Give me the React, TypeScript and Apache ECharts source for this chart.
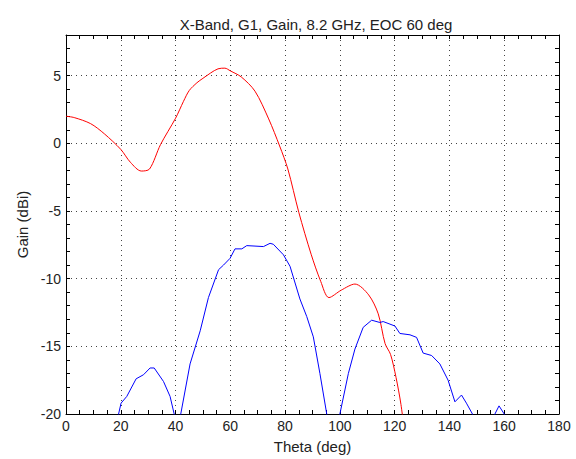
import React, { useEffect, useRef } from "react";
import * as echarts from "echarts";

const titleText = "X-Band, G1, Gain, 8.2 GHz, EOC 60 deg";
const xName = "Theta (deg)";
const yName = "Gain (dBi)";

const redTheta = [0, 3, 9, 14, 20, 23.5, 27.5, 30.5, 34.5, 40, 42.9, 45, 47.8, 50, 55.5, 58, 60, 64, 69, 74, 78, 81, 85, 89.5, 93, 96, 100.5, 105.5, 110.5, 114, 116.5, 118.5, 120.5, 122.3, 124];
const redGain = [2.0, 1.9, 1.45, 0.7, -0.45, -1.4, -2.05, -1.9, -0.1, 1.85, 3.1, 3.9, 4.47, 4.8, 5.5, 5.55, 5.35, 4.9, 3.85, 1.8, -0.2, -1.9, -5.1, -8.2, -10.2, -11.4, -10.85, -10.4, -11.2, -12.6, -14.8, -15.6, -17.3, -19.3, -22];

const blueTheta = [0, 10, 18.8, 19.2, 20.1, 22.2, 25.6, 28.3, 30.7, 32.2, 35.6, 38, 39.5, 40.7, 41.9, 45.3, 49, 52, 55.7, 57.5, 59.9, 61.7, 64.2, 66, 72.1, 74.5, 75.7, 79.4, 81.8, 85.4, 87.9, 90.3, 92.7, 95.2, 97.5, 100, 103.1, 105.5, 108.5, 111.6, 114.6, 115.8, 120.1, 121.9, 125.6, 128, 130.4, 133.5, 136.5, 139.5, 142, 144.4, 146.2, 148.4, 152, 156.6, 158.1, 160, 165, 170, 180];
const blueGain = [-30, -28, -22, -20, -19.2, -18.7, -17.4, -17.1, -16.6, -16.6, -17.6, -18.7, -20, -24, -20, -16.3, -13.85, -11.4, -9.34, -9.0, -8.5, -7.8, -7.8, -7.56, -7.63, -7.39, -7.46, -8.24, -9.09, -11.5, -12.8, -14.3, -17.0, -20, -26, -20, -17.0, -15.2, -13.6, -13.07, -13.24, -13.17, -13.5, -14.05, -14.15, -14.34, -15.5, -15.68, -16.3, -17.5, -19.1, -18.6, -19.2, -20, -25, -20, -19.4, -20, -24, -26, -28];

const X_MIN = 0, X_MAX = 180, X_MAJOR = 20, X_MINOR = 5;
const Y_MIN = -20, Y_MAX = 8, Y_MAJOR = 5, Y_MINOR = 1;

const FONT = "Liberation Sans, Arial, sans-serif";
const TXT = "#222";

export default function App() {
  const ref = useRef<HTMLDivElement>(null);
  useEffect(() => {
    if (!ref.current) return;
    const chart = echarts.init(ref.current, null, { renderer: "svg" });
    const lineBlack = { show: true, onZero: false, lineStyle: { color: "#000", width: 1 } };
    const dotted = { color: "#444", width: 1, type: [1, 4] as any };
    const tick = { show: true, inside: true, length: 4, lineStyle: { color: "#000" } };
    const xBase = { type: "value", min: X_MIN, max: X_MAX };
    const yBase = { type: "value", min: Y_MIN, max: Y_MAX };
    const hidden = {
      axisLine: { show: false, onZero: false },
      axisTick: { show: false },
      axisLabel: { show: false },
    };
    chart.setOption({
      animation: false,
      backgroundColor: "#fff",
      title: {
        text: titleText,
        left: 311,
        top: 12,
        textAlign: "center",
        textStyle: { fontFamily: FONT, fontSize: 15, fontWeight: "normal", color: TXT },
      },
      grid: { left: 66, top: 35, width: 493, height: 381, containLabel: false },
      xAxis: [
        {
          ...xBase,
          position: "bottom",
          interval: X_MINOR,
          axisLine: lineBlack,
          axisTick: tick,
          axisLabel: {
            margin: 5,
            fontFamily: FONT,
            fontSize: 14,
            color: TXT,
            formatter: (v: number) => (v % X_MAJOR === 0 ? String(v) : ""),
          },
          splitLine: { show: false },
          name: xName,
          nameLocation: "middle",
          nameGap: 25,
          nameTextStyle: { fontFamily: FONT, fontSize: 15, color: TXT },
        },
        {
          ...xBase,
          position: "top",
          interval: X_MINOR,
          axisLine: lineBlack,
          axisTick: tick,
          axisLabel: { show: false },
          splitLine: { show: false },
        },
        {
          ...xBase,
          position: "bottom",
          interval: X_MAJOR,
          ...hidden,
          splitLine: { show: true, lineStyle: dotted },
        },
      ],
      yAxis: [
        {
          ...yBase,
          position: "left",
          interval: Y_MINOR,
          axisLine: lineBlack,
          axisTick: tick,
          axisLabel: {
            margin: 5,
            fontFamily: FONT,
            fontSize: 14,
            color: TXT,
            formatter: (v: number) => (v % Y_MAJOR === 0 ? String(v) : ""),
          },
          splitLine: { show: false },
          name: yName,
          nameLocation: "middle",
          nameGap: 34,
          nameTextStyle: { fontFamily: FONT, fontSize: 15, color: TXT },
        },
        {
          ...yBase,
          position: "right",
          interval: Y_MINOR,
          axisLine: lineBlack,
          axisTick: tick,
          axisLabel: { show: false },
          splitLine: { show: false },
        },
        {
          ...yBase,
          position: "left",
          interval: Y_MAJOR,
          ...hidden,
          splitLine: { show: true, lineStyle: dotted },
        },
      ],
      series: [
        {
          type: "line",
          xAxisIndex: 0,
          yAxisIndex: 0,
          data: redTheta.map((t, i) => [t, redGain[i]]),
          showSymbol: false,
          symbol: "none",
          smooth: 0.3,
          clip: true,
          lineStyle: { color: "#ff0000", width: 1 },
          itemStyle: { color: "#ff0000" },
        },
        {
          type: "line",
          xAxisIndex: 0,
          yAxisIndex: 0,
          data: blueTheta.map((t, i) => [t, blueGain[i]]),
          showSymbol: false,
          symbol: "none",
          clip: true,
          lineStyle: { color: "#0000ff", width: 1 },
          itemStyle: { color: "#0000ff" },
        },
      ],
    });
    return () => chart.dispose();
  }, []);
  return (
    <div
      ref={ref}
      style={{ position: "fixed", left: 0, top: 0, width: 576, height: 459, background: "#fff" }}
    />
  );
}
